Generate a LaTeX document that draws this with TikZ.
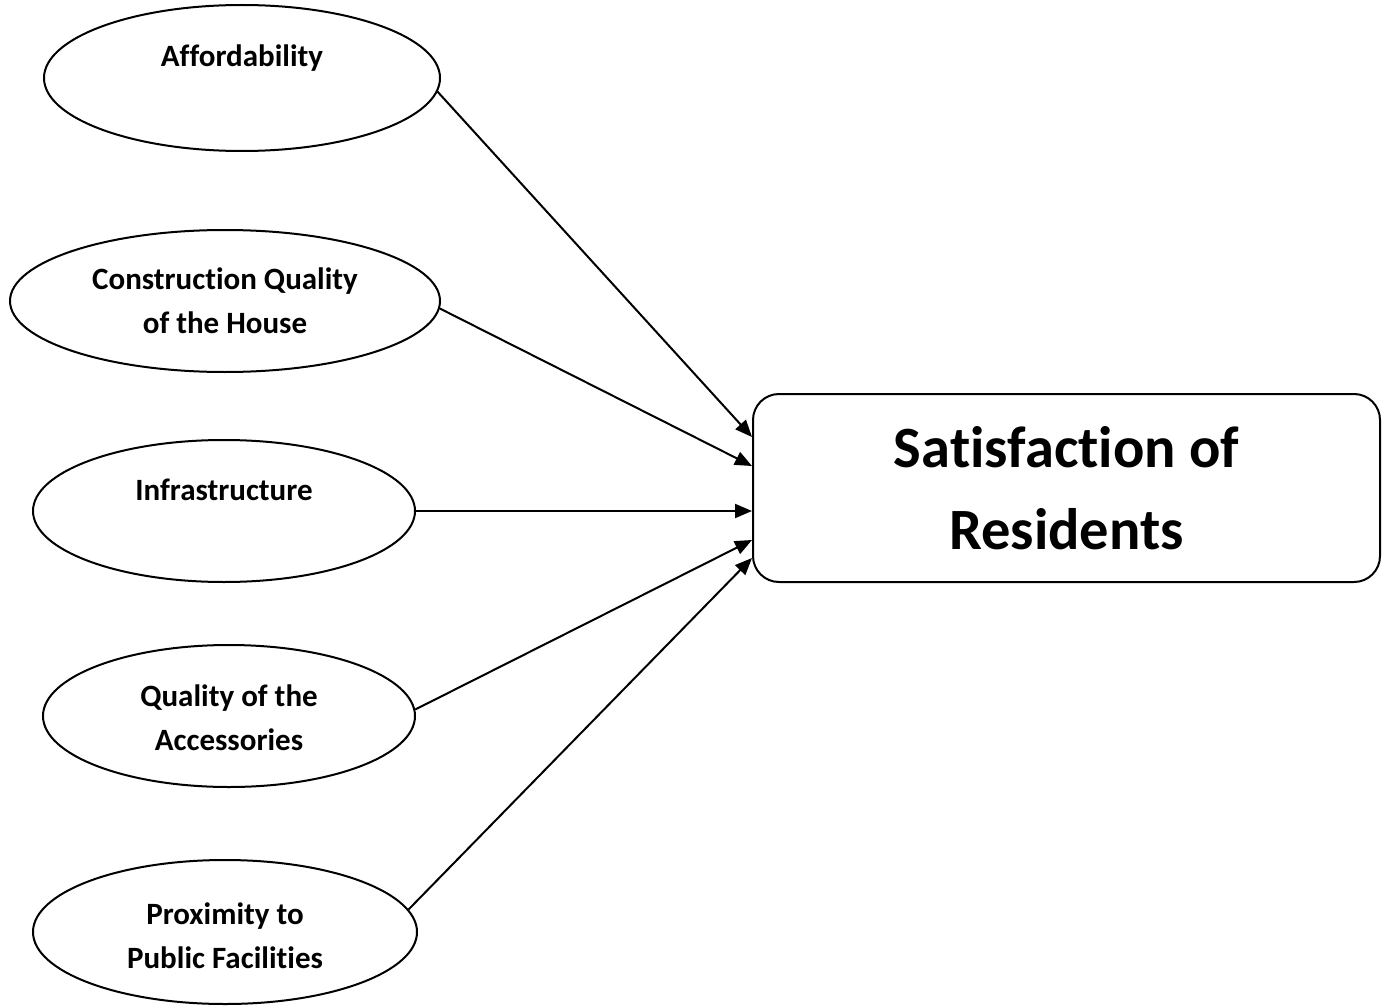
\documentclass[tikz,border=0pt]{standalone}
\usepackage{fontspec}
\setmainfont{Carlito}[Ligatures={NoCommon}]
\usetikzlibrary{shapes.geometric,arrows.meta}
\begin{document}
\begin{tikzpicture}[x=1pt,y=-1pt,
  oval/.style={draw,line width=2pt,ellipse,inner sep=0pt},
  lbl/.style={align=center,inner sep=0pt,font=\fontsize{31}{44}\selectfont\bfseries},
  conn/.style={line width=2pt,-{Triangle[length=17pt,width=14pt]}}]
\useasboundingbox (0,0) rectangle (1389,1006);
\node[oval,minimum width=396pt,minimum height=146pt] (e1) at (242,78) {};
\node[oval,minimum width=430pt,minimum height=142pt] (e2) at (225,301) {};
\node[oval,minimum width=382pt,minimum height=142pt] (e3) at (224,511) {};
\node[oval,minimum width=372pt,minimum height=142pt] (e4) at (229,716) {};
\node[oval,minimum width=384pt,minimum height=144pt] (e5) at (225,932) {};
\node[lbl] (t1) at (242,58) {Affordability};
\node[lbl] (t2) at (225,301) {Construction Quality\\of the House};
\node[lbl] (t3) at (224,490) {Infrastructure};
\node[lbl] (t4) at (229,718) {Quality of the\\Accessories};
\node[lbl] (t5) at (225,936) {Proximity to\\Public Facilities};
\node[draw,line width=2pt,rounded corners=26pt,minimum width=627pt,minimum height=188pt,
  align=center,font=\fontsize{58.5}{82}\selectfont\bfseries] (box) at (1066.5,488) {Satisfaction of\\Residents};
\draw[conn] (e1.-4) -- ([yshift=51pt]box.west);
\draw[conn] (e2.-2) -- ([yshift=22pt]box.west);
\draw[conn] (e3.east) -- ([yshift=-23pt]box.west);
\draw[conn] (e4.2.5) -- ([yshift=-52pt]box.west);
\draw[conn] (e5.7.6) -- ([yshift=-70pt]box.west);
\end{tikzpicture}
\end{document}
